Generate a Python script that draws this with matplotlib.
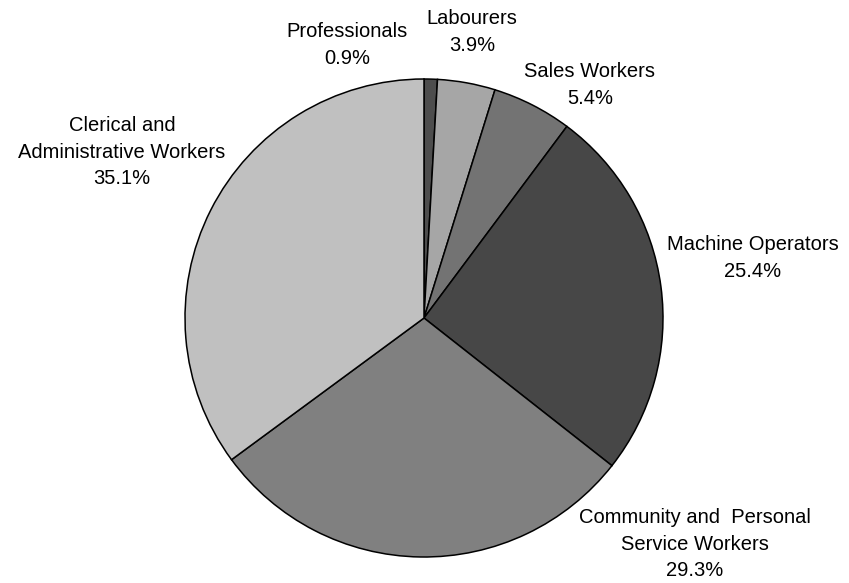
import matplotlib.pyplot as plt

categories = ["Professionals", "Labourers", "Sales Workers", "Machine Operators",
              "Community and  Personal\nService Workers",
              "Clerical and\nAdministrative Workers"]
shares = [0.9, 3.9, 5.4, 25.4, 29.3, 35.1]
colors = ["#4d4d4d", "#a6a6a6", "#737373", "#474747", "#808080", "#c0c0c0"]

# label anchor points in figure pixels (y measured from the top)
label_xy = [(347, 45), (472, 32), (590, 85), (753, 258), (695, 544), (122, 152)]

W, H = 849, 583
fig = plt.figure(figsize=(W / 100, H / 100), dpi=100)
ax = fig.add_axes([0, 0, 1, 1])

ax.pie(shares, colors=colors, startangle=90, counterclock=False,
       center=(424, H - 318), radius=239,
       wedgeprops=dict(edgecolor="black", linewidth=1.1))

# pie() resets the limits, so fix the pixel frame afterwards
ax.set_xlim(0, W)
ax.set_ylim(0, H)
ax.set_aspect("equal")
ax.axis("off")

for name, val, (x, y) in zip(categories, shares, label_xy):
    ax.text(x, H - y, f"{name}\n{val:.1f}%", ha="center", va="center",
            fontsize=14.5, family="Liberation Sans", linespacing=1.5,
            color="black")

fig.savefig("out.png", dpi=100)
